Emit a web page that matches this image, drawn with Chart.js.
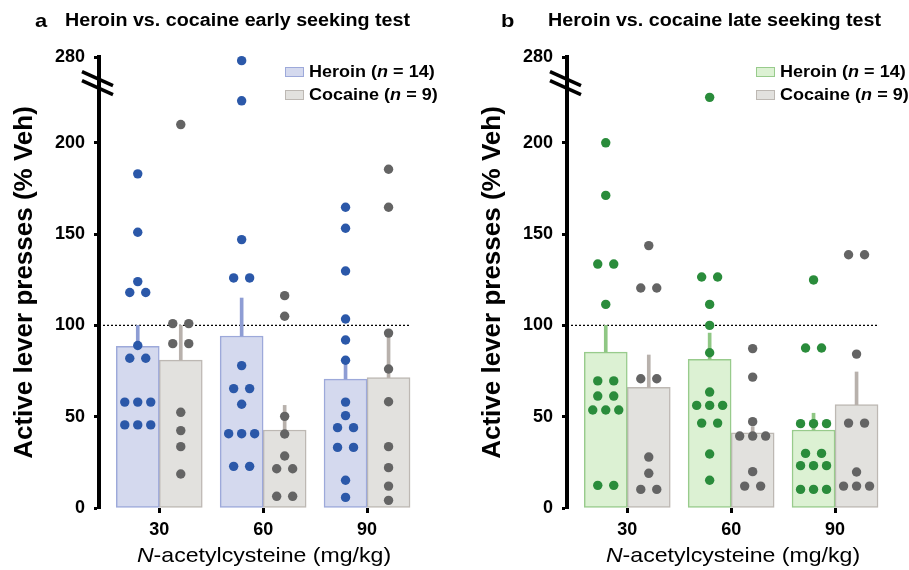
<!DOCTYPE html>
<html>
<head>
<meta charset="utf-8">
<script src="https://cdn.jsdelivr.net/npm/chart.js@4.4.1/dist/chart.umd.min.js"></script>
<style>
  body { margin: 0; background: #fff; }
  #wrap { position: relative; width: 909px; height: 570px; font-family: "Liberation Sans", Arial, sans-serif; color: #000; }
  canvas { position: absolute; top: 0; }
  .lbl { position: absolute; font-weight: bold; font-size: 19px; line-height: 22px; white-space: nowrap; transform: scaleX(1.15); transform-origin: left; }
  .ttl { position: absolute; font-weight: bold; font-size: 18px; line-height: 22px; white-space: nowrap; transform: scaleX(1.095); transform-origin: left; }
  .leg { position: absolute; font-weight: bold; font-size: 17px; line-height: 23px; white-space: nowrap; }
  .leg div { position: relative; padding-left: 24px; }
  .leg div b { display: inline-block; transform: scaleX(1.06); transform-origin: left; }
  .leg span.box { position: absolute; left: 0; top: 7px; width: 17px; height: 8px; }
  .xt { position: absolute; font-size: 21px; line-height: 24px; white-space: nowrap; transform: translateX(-50%) scaleX(1.1); }
</style>
</head>
<body>
<div id="wrap">
  <canvas id="chartA" width="441" height="570" style="left:0"></canvas>
  <canvas id="chartB" width="441" height="570" style="left:468px"></canvas>

  <div class="lbl" style="left:35px;top:10px">a</div>
  <div class="ttl" style="left:65px;top:9px">Heroin vs. cocaine early seeking test</div>
  <div class="lbl" style="left:501px;top:10px">b</div>
  <div class="ttl" style="left:548px;top:9px">Heroin vs. cocaine late seeking test</div>

  <div class="leg" style="left:285px;top:60px">
    <div><span class="box" style="background:#d4d9ee;border:1px solid #9da9da"></span><b>Heroin (<i>n</i> = 14)</b></div>
    <div><span class="box" style="background:#e2e1de;border:1px solid #bdb8b3"></span><b>Cocaine (<i>n</i> = 9)</b></div>
  </div>
  <div class="leg" style="left:756px;top:60px">
    <div><span class="box" style="background:#dcf1d3;border:1px solid #98cb8c"></span><b>Heroin (<i>n</i> = 14)</b></div>
    <div><span class="box" style="background:#e2e1de;border:1px solid #bdb8b3"></span><b>Cocaine (<i>n</i> = 9)</b></div>
  </div>

  <div class="xt" style="left:264px;top:543px"><i>N</i>-acetylcysteine (mg/kg)</div>
  <div class="xt" style="left:733px;top:543px"><i>N</i>-acetylcysteine (mg/kg)</div>
</div>

<script>
const doses = ['30', '60', '90'];
const yTicks = [0, 50, 100, 150, 200, 280];

// early seeking test
const earlyHeroinMean = [88.5, 94.2, 70.6];
const earlyHeroinSem = [11.5, 20.8, 10.4];
const earlyCocaineMean = [81, 42.7, 71.4];
const earlyCocaineSem = [19, 13.5, 25];
const earlyHeroinPts = [
  [183, 151, 124, 118, 118, 89, 82, 82, 58, 58, 58, 45.5, 45.5, 45.5],
  [278, 223, 147, 126, 126, 78, 65.4, 65.4, 56.8, 40.7, 40.7, 40.7, 22.8, 22.8],
  [164.7, 153.2, 129.8, 103.5, 92, 80.9, 58, 50.6, 44, 44, 33.2, 33.2, 15.2, 5.8]
];
const earlyCocainePts = [
  [210, 101, 101, 90, 90, 52.4, 42.4, 33.6, 18.6],
  [116.3, 105, 50.2, 40.5, 28.5, 21.5, 21.5, 6.4, 6.4],
  [185.5, 164.7, 95.8, 76.1, 58.2, 33.6, 22.1, 12, 4.2]
];

// late seeking test
const lateHeroinMean = [85.4, 81.4, 42.7];
const lateHeroinSem = [14.6, 14.4, 9.2];
const lateCocaineMean = [66.1, 41.2, 56.6];
const lateCocaineSem = [17.7, 3.3, 17.9];
const lateHeroinPts = [
  [200, 171.2, 133.6, 133.6, 111.5, 69.6, 69.6, 61.3, 61.3, 53.7, 53.7, 53.7, 12.4, 12.4],
  [224.9, 126.5, 126.5, 111.5, 100, 85, 63.5, 56.2, 56.2, 56.2, 46.5, 46.5, 29.6, 15.2],
  [124.9, 87.6, 87.6, 46.2, 46.2, 46.2, 29.9, 29.9, 23.2, 23.2, 23.2, 10.2, 10.2, 10.2]
];
const lateCocainePts = [
  [143.7, 120.5, 120.5, 70.8, 70.8, 27.9, 19, 10.2, 10.2],
  [87.3, 71.7, 47.3, 39.4, 39.4, 39.4, 19.9, 12, 12],
  [138.7, 138.7, 84.3, 46.5, 46.5, 19.7, 12, 12, 12]
];

// axis break: values above 240 are pulled down
const brk = v => v > 240 ? v - 33 : v;

const PX = 104;          // px per category unit
const HALF = 0.207;      // half bar offset
const X_MIN = -0.58, X_MAX = 2.5;

function swarm(pts, center) {
  const out = [];
  const seen = {};
  pts.forEach(v => { seen[v] = (seen[v] || 0) + 1; });
  const spread = { 1: [0], 2: [-8, 8], 3: [-13, 0, 13] };
  Object.keys(seen).forEach(k => {
    const n = seen[k];
    (spread[n] || spread[3]).forEach(o => out.push({ x: center + o / PX, y: brk(+k) }));
  });
  return out;
}

const breakMarks = {
  id: 'breakMarks',
  afterDraw(chart) {
    const { ctx, chartArea } = chart;
    const y0 = chart.scales.y.getPixelForValue(233);
    const x = chartArea.left;
    ctx.save();
    ctx.strokeStyle = '#000';
    ctx.lineWidth = 3.5;
    [-4, 5].forEach(d => {
      ctx.beginPath();
      ctx.moveTo(x - 17, y0 + d - 7);
      ctx.lineTo(x + 14, y0 + d + 7);
      ctx.stroke();
    });
    ctx.restore();
  }
};

function makeChart(id, hMean, hSem, cMean, cSem, hPts, cPts, col) {
  const datasets = [];
  const dots = (pts, off, color) => ({
    type: 'scatter', order: 0, clip: false,
    data: pts.flatMap((p, i) => swarm(p, i + off)),
    backgroundColor: color, pointRadius: 4.7, pointBorderWidth: 0, pointHoverRadius: 4.7
  });
  datasets.push(dots(hPts, -HALF, col.dot));
  datasets.push(dots(cPts, HALF, '#646464'));
  const errs = (mean, sem, off, color) => ({
    type: 'bar', order: 1, grouped: false, barThickness: 3,
    data: mean.map((m, i) => ({ x: i + off, y: [m, m + sem[i]] })),
    backgroundColor: color, borderWidth: 0
  });
  datasets.push(errs(hMean, hSem, -HALF, col.err));
  datasets.push(errs(cMean, cSem, HALF, '#b8b1ac'));
  datasets.push({
    type: 'line', order: 2,
    data: [{ x: X_MIN, y: 100 }, { x: 2 + 2 * HALF, y: 100 }],
    borderColor: '#000', borderWidth: 1.2, borderDash: [2, 2], pointRadius: 0
  });
  const bars = (mean, off, fill, border) => ({
    type: 'bar', order: 3, grouped: false, barThickness: 43,
    data: mean.map((m, i) => ({ x: i + off, y: m })),
    backgroundColor: fill, borderColor: border, borderWidth: 1.5, borderSkipped: false
  });
  datasets.push(bars(hMean, -HALF, col.fill, col.border));
  datasets.push(bars(cMean, HALF, '#e2e1de', '#bdb8b3'));

  new Chart(document.getElementById(id), {
    type: 'bar',
    data: { datasets },
    plugins: [breakMarks],
    options: {
      responsive: false,
      animation: false,
      layout: { padding: { top: 57, right: 22, left: 0, bottom: 0 } },
      plugins: { legend: { display: false }, tooltip: { enabled: false } },
      scales: {
        x: {
          type: 'linear', min: X_MIN, max: X_MAX, offset: false,
          afterBuildTicks: s => { s.ticks = doses.map((d, i) => ({ value: i })); },
          afterFit: s => { s.height = 62; },
          ticks: {
            callback: v => doses[v], color: '#000', padding: 6,
            font: { family: '"Liberation Sans", Arial, sans-serif', size: 18, weight: 'bold' }
          },
          grid: { display: true, offset: false, drawOnChartArea: false, drawTicks: true, tickLength: 5, tickWidth: 3, color: '#000' },
          border: { display: false }
        },
        y: {
          type: 'linear', min: 0, max: brk(280),
          afterBuildTicks: s => { s.ticks = yTicks.map(v => ({ value: brk(v) })); },
          afterFit: s => { s.width = 99; },
          ticks: {
            callback: v => String(yTicks.find(t => brk(t) === v)), color: '#000', padding: 9,
            font: { family: '"Liberation Sans", Arial, sans-serif', size: 18, weight: 'bold' }
          },
          grid: { display: true, drawOnChartArea: false, drawTicks: true, tickLength: 5, tickWidth: 3, color: '#000' },
          border: { display: true, width: 4, color: '#000' },
          title: {
            display: true, text: 'Active lever presses (% Veh)', color: '#000',
            padding: { top: 9, bottom: 0 },
            font: { family: '"Liberation Sans", Arial, sans-serif', size: 26, weight: 'bold' }
          }
        }
      }
    }
  });
}

makeChart('chartA', earlyHeroinMean, earlyHeroinSem, earlyCocaineMean, earlyCocaineSem,
  earlyHeroinPts, earlyCocainePts,
  { fill: '#d4d9ee', border: '#9da9da', err: '#8e9dd4', dot: '#2b58a9' });
makeChart('chartB', lateHeroinMean, lateHeroinSem, lateCocaineMean, lateCocaineSem,
  lateHeroinPts, lateCocainePts,
  { fill: '#dcf1d3', border: '#98cb8c', err: '#8fc784', dot: '#2a8c3b' });
</script>
</body>
</html>
